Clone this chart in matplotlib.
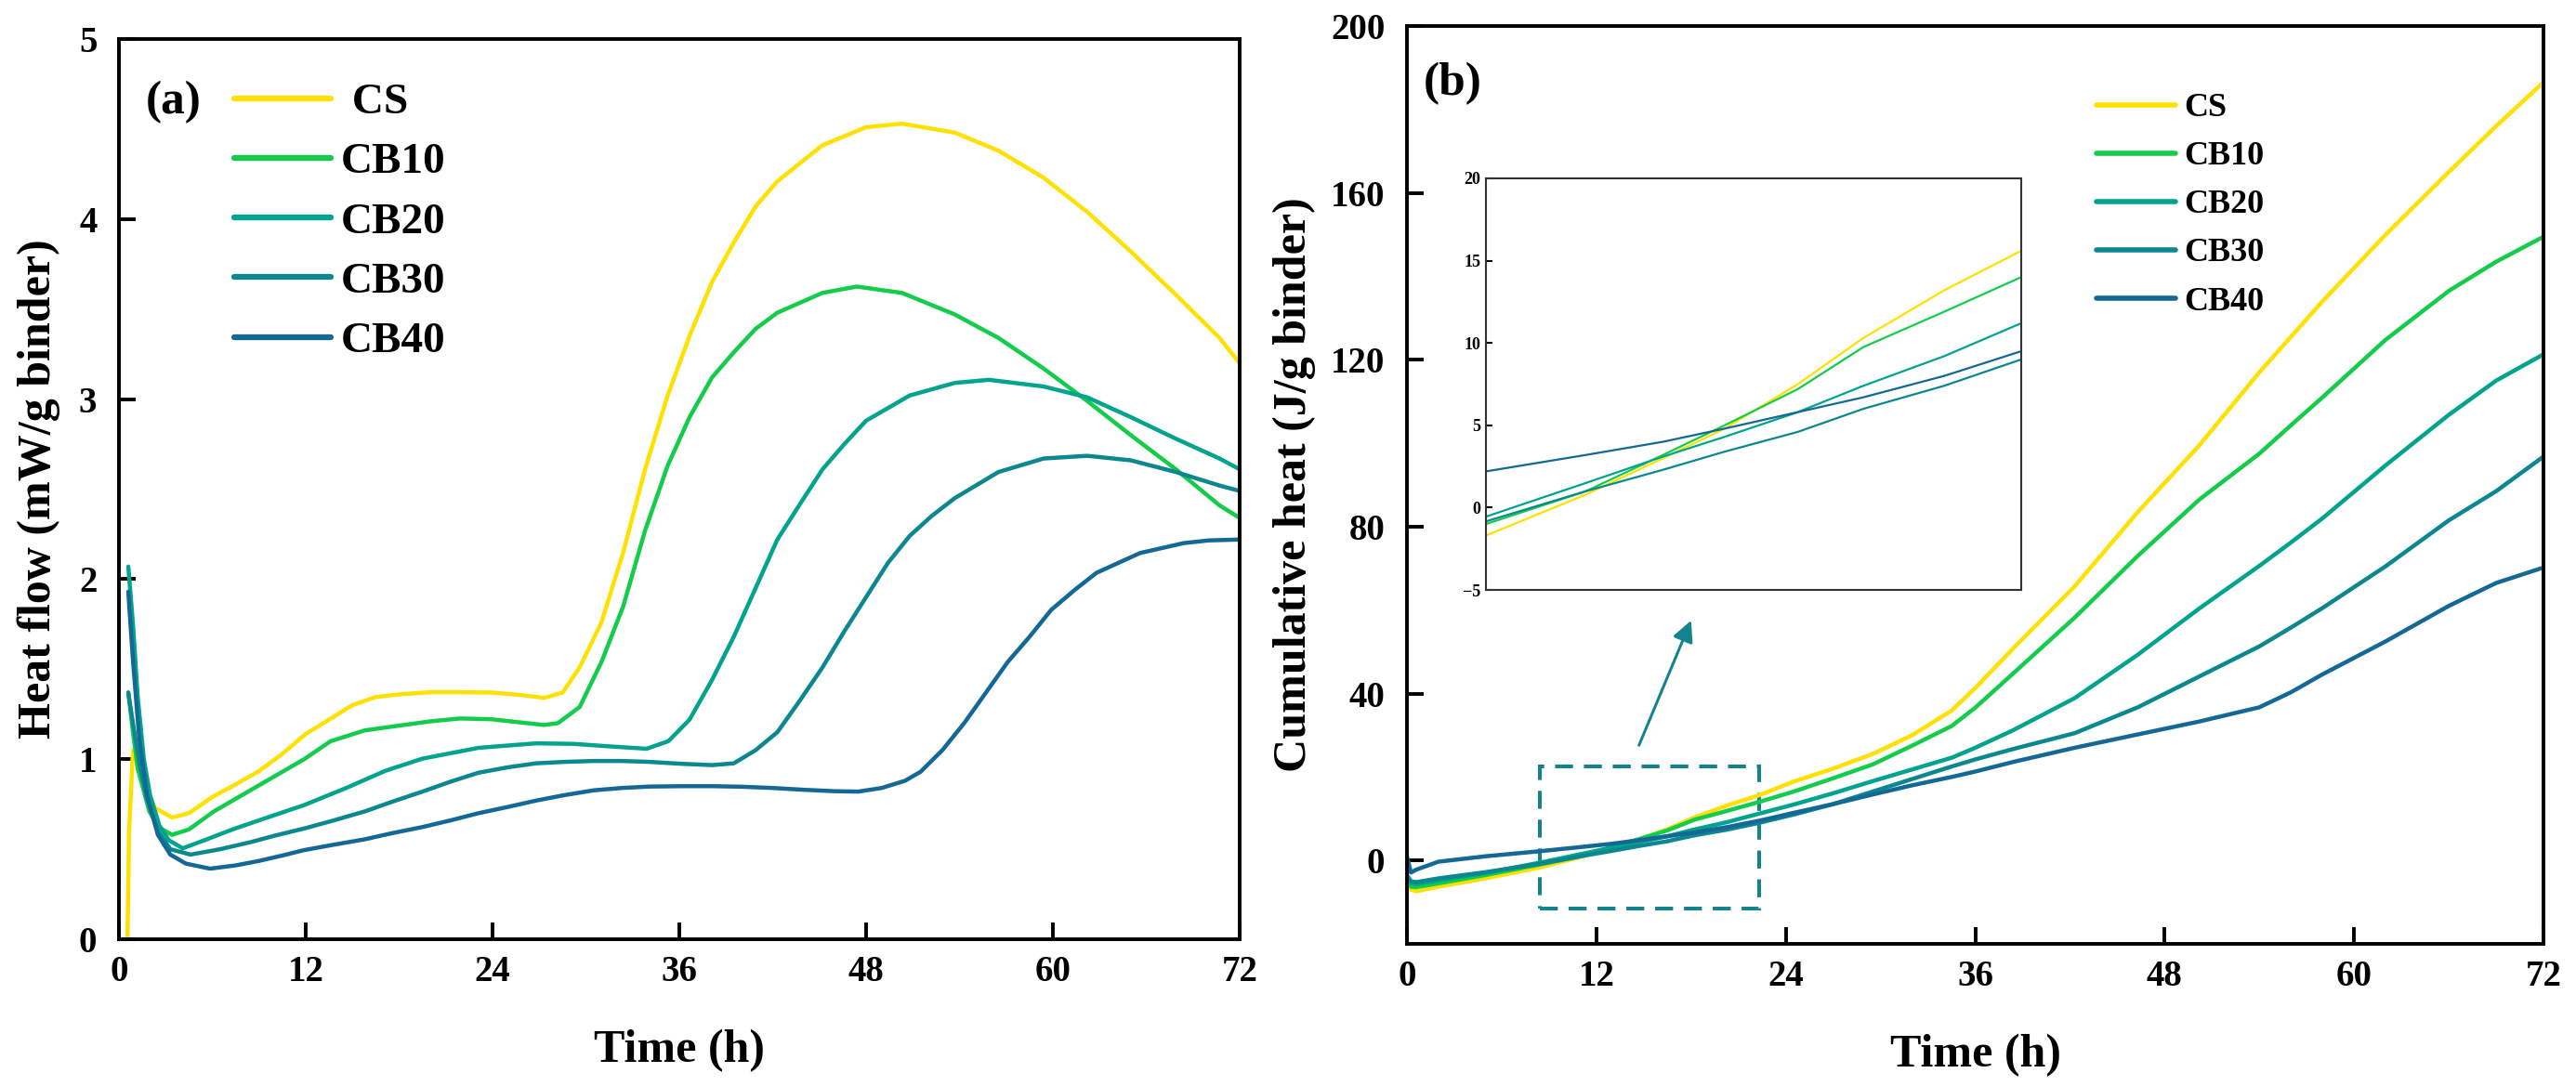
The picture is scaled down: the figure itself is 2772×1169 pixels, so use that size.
import matplotlib
matplotlib.use("Agg")
import matplotlib.pyplot as plt
from matplotlib.patches import Rectangle

plt.rcParams['font.family'] = ['Liberation Serif', 'DejaVu Serif']
plt.rcParams['font.weight'] = 'bold'
plt.rcParams['axes.labelweight'] = 'bold'

series = ['CS', 'CB10', 'CB20', 'CB30', 'CB40']
colors = ['#FFE100', '#14CC4B', '#00A38D', '#0B878F', '#146896']

# ---------------- (a) heat flow ----------------
t_cs = [0.55, 0.65, 0.9, 1.5, 2.3, 3.4, 4.5, 6, 7.5, 9, 10.5, 12, 13.5, 15, 16.5, 18, 20, 22, 24, 26,
        27.3, 28.5, 29.6, 31, 32.4, 33.8, 35.25, 36.7, 38.1, 39.5, 40.9, 42.3, 45.2, 48, 50.3, 53.7,
        56.5, 59.4, 62.2, 65, 67.9, 70.7, 72]
hf_cs = [0.0, 0.6, 1.05, 0.9, 0.73, 0.676, 0.70, 0.79, 0.86, 0.934, 1.03, 1.14, 1.22, 1.30, 1.345,
         1.36, 1.372, 1.372, 1.37, 1.355, 1.34, 1.37, 1.51, 1.76, 2.15, 2.61, 3.02, 3.36, 3.65, 3.87,
         4.07, 4.21, 4.41, 4.51, 4.53, 4.48, 4.38, 4.23, 4.04, 3.82, 3.58, 3.34, 3.20]

t_cb10 = [0.6, 0.9, 1.2, 1.95, 2.6, 3.4, 4.5, 6.1, 7.5, 9, 10.5, 11.9, 13.6, 15.8, 18.3, 20, 21.9,
          23.9, 25.6, 27.3, 28.2, 29.6, 31.0, 32.4, 33.8, 35.25, 36.66, 38.1, 39.5, 40.9, 42.3,
          45.2, 47.4, 50.3, 53.7, 56.5, 59.4, 62.2, 65.0, 67.9, 70.7, 72]
hf_cb10 = [1.37, 1.15, 0.95, 0.71, 0.62, 0.58, 0.61, 0.71, 0.78, 0.855, 0.93, 1.0, 1.1, 1.16, 1.19,
           1.21, 1.226, 1.222, 1.206, 1.19, 1.20, 1.29, 1.54, 1.85, 2.27, 2.63, 2.90, 3.12, 3.26,
           3.39, 3.48, 3.59, 3.625, 3.59, 3.47, 3.34, 3.17, 2.99, 2.80, 2.61, 2.41, 2.34]

t_cb20 = [0.6, 0.9, 1.2, 1.6, 2.0, 2.6, 3.2, 4.1, 5.5, 7.3, 9.5, 11.9, 14.6, 17.1, 19.5, 23.1, 26.8,
          29.2, 31.7, 33.9, 35.3, 36.66, 38.1, 39.5, 40.9, 42.3, 43.7, 45.2, 46.6, 48.0, 50.8, 53.7,
          55.9, 59.4, 62.2, 65.0, 67.9, 70.7, 72]
hf_cb20 = [2.07, 1.75, 1.35, 1.0, 0.8, 0.63, 0.55, 0.505, 0.55, 0.61, 0.675, 0.745, 0.84, 0.935,
           1.003, 1.063, 1.088, 1.085, 1.07, 1.058, 1.10, 1.22, 1.44, 1.68, 1.95, 2.22, 2.41, 2.61,
           2.75, 2.88, 3.02, 3.09, 3.107, 3.07, 3.01, 2.90, 2.78, 2.67, 2.61]

t_cb30 = [0.6, 0.9, 1.3, 1.8, 2.5, 3.3, 4.6, 6.5, 8.5, 10, 11.9, 13.8, 15.8, 17.6, 19.5, 21.3, 23.1,
          25, 26.8, 28.6, 30.5, 32.3, 34.1, 36, 38.1, 39.5, 40.9, 42.3, 43.7, 45.2, 46.6, 48.0,
          49.4, 50.8, 52.2, 53.7, 56.5, 59.4, 62.2, 65.0, 67.9, 70.7, 72]
hf_cb30 = [1.37, 1.2, 0.98, 0.78, 0.6, 0.5, 0.47, 0.5, 0.54, 0.575, 0.615, 0.66, 0.71, 0.765, 0.82,
           0.875, 0.925, 0.955, 0.977, 0.985, 0.99, 0.99, 0.985, 0.975, 0.967, 0.977, 1.05, 1.15,
           1.32, 1.51, 1.71, 1.90, 2.09, 2.24, 2.35, 2.45, 2.595, 2.67, 2.685, 2.66, 2.595, 2.52,
           2.49]

t_cb40 = [0.6, 0.9, 1.3, 1.8, 2.5, 3.3, 4.3, 5.85, 7.5, 9.0, 10.5, 11.9, 13.8, 15.8, 17.6, 19.5,
          21.3, 23.1, 25, 26.8, 28.6, 30.5, 32.3, 34.1, 36.2, 38.2, 40, 42, 44, 46, 47.5, 49, 50.5,
          51.5, 52.9, 54.3, 55.7, 57.1, 58.5, 59.9, 61.4, 62.8, 65.6, 68.4, 70, 72]
hf_cb40 = [1.93, 1.55, 1.12, 0.8, 0.58, 0.47, 0.42, 0.392, 0.41, 0.435, 0.465, 0.495, 0.525, 0.555,
           0.59, 0.623, 0.66, 0.70, 0.735, 0.77, 0.80, 0.827, 0.84, 0.848, 0.85, 0.85, 0.847, 0.84,
           0.83, 0.822, 0.82, 0.84, 0.88, 0.93, 1.05, 1.20, 1.37, 1.54, 1.68, 1.83, 1.94, 2.035,
           2.145, 2.20, 2.215, 2.22]

# ---------------- (b) cumulative heat ----------------
t_b = [0, 0.25, 0.6, 2, 5, 8.4, 11, 13, 14.6, 16.5, 18.2, 20.3, 22.3, 24.5, 27, 29.5, 32, 34.5,
       36, 38.4, 42.3, 46.3, 50.2, 54, 56, 58, 62, 66, 69, 72]
ch_cs = [-5.0, -7.0, -7.4, -6.3, -4.3, -1.7, 0.8, 3.0, 4.8, 7.5, 10.3, 13.2, 15.6, 18.9, 22.0, 25.5,
         30.0, 35.9, 41.3, 50.8, 65.7, 83.5, 99.5, 117.0, 125.5, 134.0, 150.0, 165.0, 176.0, 186.5]
ch_cb10 = [-4.5, -6.3, -6.4, -5.5, -3.5, -1.0, 1.0, 3.2, 5.0, 7.2, 9.75, 11.9, 14.0, 16.5, 19.7,
           23.0, 27.5, 32.2, 36.6, 44.8, 58.2, 73.0, 86.5, 97.5, 104.3, 111.0, 124.8, 136.5, 143.5,
           149.5]
ch_cb20 = [-4.0, -5.5, -5.7, -4.8, -3.0, -0.55, 1.5, 3.1, 4.3, 5.8, 7.4, 9.2, 11.2, 13.4, 16.1,
           19.0, 21.8, 24.6, 27.0, 31.2, 38.9, 49.3, 60.4, 70.6, 76.2, 82.0, 94.7, 106.8, 115.0,
           121.3]
ch_cb30 = [-3.5, -5.0, -5.2, -4.3, -2.8, -0.84, 1.0, 2.3, 3.4, 4.6, 6.0, 7.4, 9.0, 11.0, 13.5, 16.5,
           19.5, 22.5, 24.2, 26.7, 30.5, 36.7, 44.1, 51.3, 55.8, 60.5, 70.5, 81.5, 88.5, 96.8]
ch_cb40 = [1.0, -2.9, -2.2, -0.3, 1.0, 2.2, 3.2, 4.0, 4.8, 5.8, 6.7, 8.0, 9.5, 11.4, 13.5, 15.8,
           18.0, 20.0, 21.3, 23.6, 27.0, 30.2, 33.3, 36.7, 40.3, 44.6, 52.5, 61.0, 66.5, 70.2]

a_times = [t_cs, t_cb10, t_cb20, t_cb30, t_cb40]
a_vals = [hf_cs, hf_cb10, hf_cb20, hf_cb30, hf_cb40]
b_vals = [ch_cs, ch_cb10, ch_cb20, ch_cb30, ch_cb40]

x_ticks = [0, 12, 24, 36, 48, 60, 72]
a_yticks = [0, 1, 2, 3, 4, 5]
b_yticks = [0, 40, 80, 120, 160, 200]
inset_yticks = [-5, 0, 5, 10, 15, 20]

W, H = 2772, 1169
fig = plt.figure(figsize=(W / 100, H / 100), dpi=100)

def px_rect(x0, y0, x1, y1):
    return [x0 / W, 1 - y1 / H, (x1 - x0) / W, (y1 - y0) / H]

def style_main(ax):
    for s in ax.spines.values():
        s.set_linewidth(2.8)
    ax.tick_params(direction='in', length=13, width=2.8, labelsize=28,
                   top=False, right=False)
    ax.tick_params(axis='x', pad=12)
    ax.tick_params(axis='y', pad=17)
    for lab in ax.get_xticklabels() + ax.get_yticklabels():
        lab.set_fontweight('bold')

LW = 3.2
# ---- panel a
ax1 = fig.add_axes(px_rect(128, 42, 1334, 1011))
for name, c, tt, vv in zip(series, colors, a_times, a_vals):
    ax1.plot(tt, vv, color=c, lw=LW, label=(' ' + name if name == 'CS' else name),
             solid_capstyle='round', solid_joinstyle='round')
ax1.set_xlim(0, 72)
ax1.set_ylim(0, 5)
ax1.set_xticks(x_ticks)
ax1.set_yticks(a_yticks)
style_main(ax1)
ax1.set_xlabel('Time (h)', fontsize=36, fontweight='bold')
ax1.set_ylabel('Heat flow (mW/g binder)', fontsize=36, fontweight='bold')
ax1.yaxis.set_label_coords(-0.052, 0.5)
ax1.xaxis.set_label_coords(0.5, -0.100)
leg1 = ax1.legend(loc='upper left', bbox_to_anchor=(252 / W, 1 - 89 / H),
                  bbox_transform=fig.transFigure, frameon=False, fontsize=34,
                  handlelength=2.2, handletextpad=0.23, labelspacing=0.45,
                  borderpad=0, borderaxespad=0)
for t in leg1.get_texts():
    t.set_fontweight('bold')
for l in leg1.get_lines():
    l.set_linewidth(4.5)
fig.text(157 / W, 1 - 110 / H, '(a)', fontsize=37, fontweight='bold', va='center', ha='left')

# ---- panel b
ax2 = fig.add_axes(px_rect(1514, 28, 2737, 1016))
for name, c, vv in zip(series, colors, b_vals):
    ax2.plot(t_b, vv, color=c, lw=LW, label=name, solid_capstyle='round',
             solid_joinstyle='round')
ax2.set_xlim(0, 72)
ax2.set_ylim(-20, 200)
ax2.set_xticks(x_ticks)
ax2.set_yticks(b_yticks)
style_main(ax2)
ax2.set_xlabel('Time (h)', fontsize=36, fontweight='bold')
ax2.set_ylabel('Cumulative heat (J/g binder)', fontsize=36, fontweight='bold')
ax2.yaxis.set_label_coords(-0.080, 0.5)
ax2.xaxis.set_label_coords(0.5, -0.098)
leg2 = ax2.legend(loc='upper left', bbox_to_anchor=(2256 / W, 1 - 100 / H),
                  bbox_transform=fig.transFigure, frameon=False, fontsize=26,
                  handlelength=2.35, handletextpad=0.25, labelspacing=0.52,
                  borderpad=0, borderaxespad=0)
for t in leg2.get_texts():
    t.set_fontweight('bold')
for l in leg2.get_lines():
    l.set_linewidth(4.0)
fig.text(1532 / W, 1 - 90 / H, '(b)', fontsize=37, fontweight='bold', va='center', ha='left')

box_col = '#13848E'
ax2.add_patch(Rectangle((8.4, -11.6), 22.3 - 8.4, 22.5 + 11.6, fill=False, ec=box_col,
                        lw=2.9, ls=(0, (4.8, 2.9))))
ax2.annotate('', xy=(18.0, 57.5), xytext=(14.7, 27.6),
             arrowprops=dict(arrowstyle='-|>', color=box_col, lw=2.2, mutation_scale=34,
                             shrinkA=0, shrinkB=0))

# ---- inset
ax3 = fig.add_axes(px_rect(1599, 192, 2175, 635))
for name, c, vv in zip(series, colors, b_vals):
    ax3.plot(t_b, vv, color=c, lw=1.6)
ax3.set_xlim(8.4, 22.3)
ax3.set_ylim(-5, 20)
ax3.set_yticks(inset_yticks)
ax3.set_xticks([])
for s in ax3.spines.values():
    s.set_linewidth(1.5)
    s.set_color('#333333')
ax3.tick_params(axis='y', direction='in', length=5, width=1.5, labelsize=13, pad=4,
                right=False)
for lab in ax3.get_yticklabels():
    lab.set_fontweight('bold')

fig.savefig('out.png', dpi=100)
